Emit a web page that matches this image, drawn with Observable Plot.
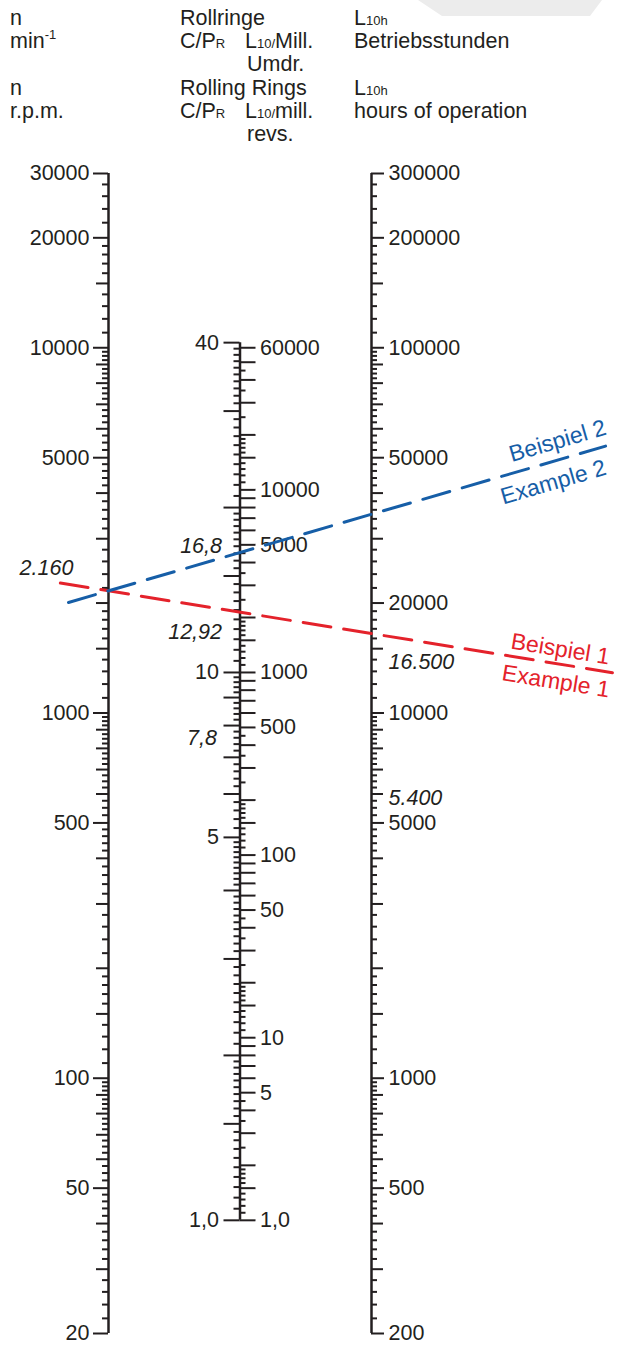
<!DOCTYPE html>
<html><head><meta charset="utf-8">
<script src="https://cdn.jsdelivr.net/npm/d3@7"></script>
<script src="https://cdn.jsdelivr.net/npm/@observablehq/plot@0.6"></script>
<style>
body{margin:0;background:#fff;font-family:"Liberation Sans",Arial,Helvetica,sans-serif;color:#231f20;}
#head{position:relative;width:617px;height:150px;font-size:21.5px;overflow:hidden;}
#head .t{position:absolute;white-space:nowrap;line-height:1;}
#head .s{font-size:13px;}
#head .sup{font-size:13px;position:relative;top:-9px;}
#banner{position:absolute;left:0;top:0;width:617px;height:16px;background:#ececec;clip-path:polygon(418px 0,602px 0,590px 16px,442px 16px);}
#chart svg{display:block;}
</style></head>
<body>
<div id="head">
  <div id="banner"></div>
  <span class="t" style="left:10px;top:8px">n</span>
  <span class="t" style="left:10px;top:31px">min<span class="sup">-1</span></span>
  <span class="t" style="left:10px;top:78px">n</span>
  <span class="t" style="left:10px;top:101px">r.p.m.</span>
  <span class="t" style="left:180px;top:8px">Rollringe</span>
  <span class="t" style="left:180px;top:31px">C/P<span class="s">R</span></span>
  <span class="t" style="left:245px;top:31px">L<span class="s">10/</span>Mill.</span>
  <span class="t" style="left:247px;top:54px">Umdr.</span>
  <span class="t" style="left:180px;top:78px">Rolling Rings</span>
  <span class="t" style="left:180px;top:101px">C/P<span class="s">R</span></span>
  <span class="t" style="left:245px;top:101px">L<span class="s">10/</span>mill.</span>
  <span class="t" style="left:247px;top:124px">revs.</span>
  <span class="t" style="left:354px;top:8px">L<span class="s">10h</span></span>
  <span class="t" style="left:354px;top:31px">Betriebsstunden</span>
  <span class="t" style="left:354px;top:78px">L<span class="s">10h</span></span>
  <span class="t" style="left:354px;top:101px">hours of operation</span>
</div>
<div id="chart"></div>
<script>
// ---------------- DATA ----------------
// axis ranges
const nRange  = [20, 30000];      // speed n, min^-1
const hRange  = [200, 300000];    // L10h, hours
const cpRange = [1, 40];          // C/P_R
const lRange  = [1, 60000];       // L10, mill. revs

// labelled tick values and texts
const nLabels   = [20, 50, 100, 500, 1000, 5000, 10000, 20000, 30000];
const nTexts    = ["20","50","100","500","1000","5000","10000","20000","30000"];
const hLabels   = [200, 500, 1000, 5000, 10000, 20000, 50000, 100000, 200000, 300000];
const hTexts    = ["200","500","1000","5000","10000","20000","50000","100000","200000","300000"];
const cpLabels  = [1, 5, 10, 40];
const cpTexts   = ["1,0","5","10","40"];
const lLabels   = [1, 5, 10, 50, 100, 500, 1000, 5000, 10000, 60000];
const lTexts    = ["1,0","5","10","50","100","500","1000","5000","10000","60000"];

// italic reading annotations
const annN  = [2160];            const annNText  = ["2.160"];
const annCP = [16.8, 12.92, 7.8]; const annCPText = ["16,8","12,92","7,8"];
const annH  = [16500, 5400];     const annHText  = ["16.500","5.400"];

// worked examples
const exName   = ["Beispiel 1", "Beispiel 2"];
const exNameEn = ["Example 1", "Example 2"];
const exN      = [2160, 2160];
const exH      = [16500, 35000];

// ---------------- LAYOUT / STYLE ----------------
const ink = "#231f20";
const exColor = ["#e4222b", "#165ea7"];
const exStart = [-0.183, -0.152];   // line extension beyond axes (axis spacing units)
const exEnd   = [1.916, 1.89];
const exLabelT = [1.905, 1.89];
const exDyTop = [-15, -19], exDyBot = [18, 21];
const annNDx = [-62], annNDy = [-23];
const annCPDx = [-18, -18, -23], annCPDy = [-3, 21, 7];
const annHDy = [29, -13];
const xOpts = {domain: [0, 1], range: [108, 371]};
const yOpts = {type: "log", domain: nRange, range: [1183, 23]};
const PX = (xOpts.domain[1] - xOpts.domain[0]) / (xOpts.range[1] - xOpts.range[0]);
const FS = 21.5;

// nomogram relations: everything expressed on the n-equivalent log scale
const posN  = n => n;
const posH  = h => h / 10;                        // L10h = L10*1e6/(60 n)
const posL  = L => Math.sqrt(L * 1e5 / 60);       // middle axis at half scale
const posCP = cp => posL(cp ** 3);                // L10 = (C/P)^3

function logTicks([lo, hi], parts) {
  const out = [];
  for (let e = Math.floor(Math.log10(lo)); e <= Math.ceil(Math.log10(hi)); e++) {
    for (const [a, b, s] of parts) {
      const k = Math.round((b - a) / s);
      for (let i = 0; i < k; i++) {
        const m = +(a + i * s).toFixed(4);
        const v = m * 10 ** e;
        if (v >= lo * 0.9999 && v <= hi * 1.0001) out.push({v, m});
      }
    }
  }
  return out;
}
function classify(ticks, labels) {
  return ticks.map(t => ({...t,
    kind: labels.some(l => Math.abs(l - t.v) / l < 1e-6) ? "label"
        : (Number.isInteger(t.m) || t.m === 1.5) ? "major" : "minor"}));
}
const axesSpec = [
  {ticks: classify(logTicks(nRange, [[1,2,0.1],[2,5,0.2],[5,10,0.25]]), nLabels), pos: posN, x: 0, dir: -1, len: {label: 15, major: 12, minor: 6}},
  {ticks: classify(logTicks(hRange, [[1,2,0.1],[2,5,0.2],[5,10,0.25]]), hLabels), pos: posH, x: 1, dir: 1, len: {label: 13, major: 12, minor: 6}},
  {ticks: classify(logTicks(cpRange, [[1,2,0.05],[2,5,0.1],[5,10,0.2]]), cpLabels), pos: posCP, x: 0.5, dir: -1, len: {label: 16, major: 16, minor: 6}},
  {ticks: classify(logTicks(lRange, [[1,2,0.1],[2,5,0.5],[5,10,1]]), lLabels), pos: posL, x: 0.5, dir: 1, len: {label: 16, major: 16, minor: 6}}
];
const tickRows = axesSpec.flatMap(a => a.ticks.map(t => ({
  y: a.pos(t.v), x1: a.x, x2: a.x + a.dir * a.len[t.kind] * PX
})));

const axisLines = [
  {x: 0, y1: posN(nRange[0]), y2: posN(nRange[1])},
  {x: 0.5, y1: posCP(cpRange[0]), y2: posCP(cpRange[1])},
  {x: 1, y1: posH(hRange[0]), y2: posH(hRange[1])}
];

// example lines
const yAt = (i, t) => Math.exp(Math.log(posN(exN[i])) + t * (Math.log(posH(exH[i])) - Math.log(posN(exN[i]))));
const exLines = exN.flatMap((n, i) => [exStart[i], exEnd[i]].map(t => ({i, x: t, y: yAt(i, t)})));
const xs = Plot.scale({x: xOpts}), ys = Plot.scale({y: yOpts});
const exAngle = exN.map((n, i) => Math.atan2(ys.apply(yAt(i, 1)) - ys.apply(yAt(i, 0)), xs.apply(1) - xs.apply(0)) * 180 / Math.PI);
const exLabels = exN.flatMap((n, i) => [
  {i, text: exName[i], x: exLabelT[i], y: yAt(i, exLabelT[i]), dy: exDyTop[i]},
  {i, text: exNameEn[i], x: exLabelT[i], y: yAt(i, exLabelT[i]), dy: exDyBot[i]}
]);

const txt = (vals, texts, pos, x, dx, anchor, extra = {}) =>
  Plot.text(vals.map((v, i) => ({y: pos(v), t: texts[i]})),
    {x: () => x, y: "y", text: "t", dx, textAnchor: anchor, fontSize: FS, fill: ink, ...extra});

const marks = [
  Plot.ruleY(tickRows, {y: "y", x1: "x1", x2: "x2", stroke: ink, strokeWidth: 2}),
  Plot.ruleX(axisLines, {x: "x", y1: "y1", y2: "y2", stroke: ink, strokeWidth: 2.5}),
  txt(nLabels, nTexts, posN, 0, -19, "end"),
  txt(hLabels, hTexts, posH, 1, 17, "start"),
  txt(cpLabels, cpTexts, posCP, 0.5, -21, "end"),
  txt(lLabels, lTexts, posL, 0.5, 20, "start"),
  ...annN.map((v, i) => Plot.text([v], {x: () => 0, y: d => posN(d), text: () => annNText[i], dx: annNDx[i], dy: annNDy[i], textAnchor: "middle", fontSize: FS, fontStyle: "italic", fill: ink})),
  ...annCP.map((v, i) => Plot.text([v], {x: () => 0.5, y: d => posCP(d), text: () => annCPText[i], dx: annCPDx[i], dy: annCPDy[i], textAnchor: "end", fontSize: FS, fontStyle: "italic", fill: ink})),
  ...annH.map((v, i) => Plot.text([v], {x: () => 1, y: d => posH(d), text: () => annHText[i], dx: 17, dy: annHDy[i], textAnchor: "start", fontSize: FS, fontStyle: "italic", fill: ink})),
  ...exN.map((n, i) => Plot.line(exLines.filter(d => d.i === i), {x: "x", y: "y", stroke: exColor[i], strokeWidth: 3, strokeDasharray: "28,13"})),
  ...exLabels.map(d => Plot.text([d], {x: "x", y: "y", text: "text", dy: d.dy, rotate: exAngle[d.i], textAnchor: "end", fontSize: 23, fill: exColor[d.i]}))
];

const chart = Plot.plot({
  width: 617, height: 1199, margin: 0,
  x: {...xOpts, axis: null},
  y: {...yOpts, axis: null},
  style: {fontFamily: '"Liberation Sans", Arial, Helvetica, sans-serif', background: "#fff", overflow: "visible"},
  marks
});
document.getElementById("chart").appendChild(chart);
</script>
</body></html>
